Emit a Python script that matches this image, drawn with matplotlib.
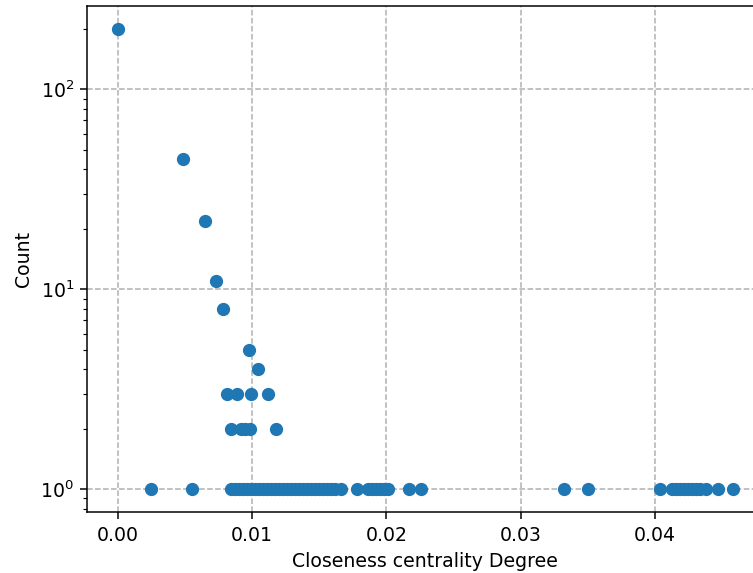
import numpy as np
import matplotlib
matplotlib.use("Agg")
import matplotlib.pyplot as plt

# closeness centrality values and how many nodes share each value
closeness_hi = [0.0, 0.00485, 0.0065, 0.0073, 0.0078, 0.00978, 0.0104]
count_hi = [200, 45, 22, 11, 8, 5, 4]

closeness_3 = [0.0081, 0.0089, 0.0099, 0.0112]
closeness_2 = [0.0084, 0.0092, 0.0095, 0.0098, 0.0118]

closeness_1 = [0.00246, 0.0055,
               0.0084, 0.0087, 0.0090, 0.0093, 0.0096, 0.0099, 0.0102, 0.0105,
               0.0108, 0.0111, 0.0114, 0.0117, 0.0120, 0.0123, 0.0126, 0.0129,
               0.0132, 0.0135, 0.0138, 0.0141, 0.0144, 0.0147, 0.0150, 0.0153,
               0.0156, 0.0159, 0.0162, 0.0166,
               0.0178, 0.0186, 0.0189, 0.0192, 0.0195, 0.0198, 0.0201,
               0.0217, 0.0226, 0.0332, 0.0350,
               0.0404, 0.0413, 0.0416, 0.0419, 0.0422, 0.0425, 0.0428, 0.0431,
               0.0434, 0.0438, 0.0447, 0.0458]

x = closeness_hi + closeness_3 + closeness_2 + closeness_1
y = count_hi + [3]*len(closeness_3) + [2]*len(closeness_2) + [1]*len(closeness_1)

dpi = 136
fig = plt.figure(figsize=(753/dpi, 573/dpi), dpi=dpi)
# the original axes runs past the right edge of the picture
ax = fig.add_axes([87.3/753, (573-512.3)/573, 676/753, 506/573])
ax.scatter(x, y, color='C0', zorder=3)
ax.set_yscale('log')
ax.set_xlim(-0.00229, 0.04809)
ax.set_ylim(0.767, 260.7)
ax.set_xticks([0.0, 0.01, 0.02, 0.03, 0.04])
ax.grid(True, linestyle='--', color='#b0b0b0', linewidth=0.8)
ax.set_xlabel('Closeness centrality Degree')
ax.set_ylabel('Count')
fig.savefig('out.png', dpi=dpi)
